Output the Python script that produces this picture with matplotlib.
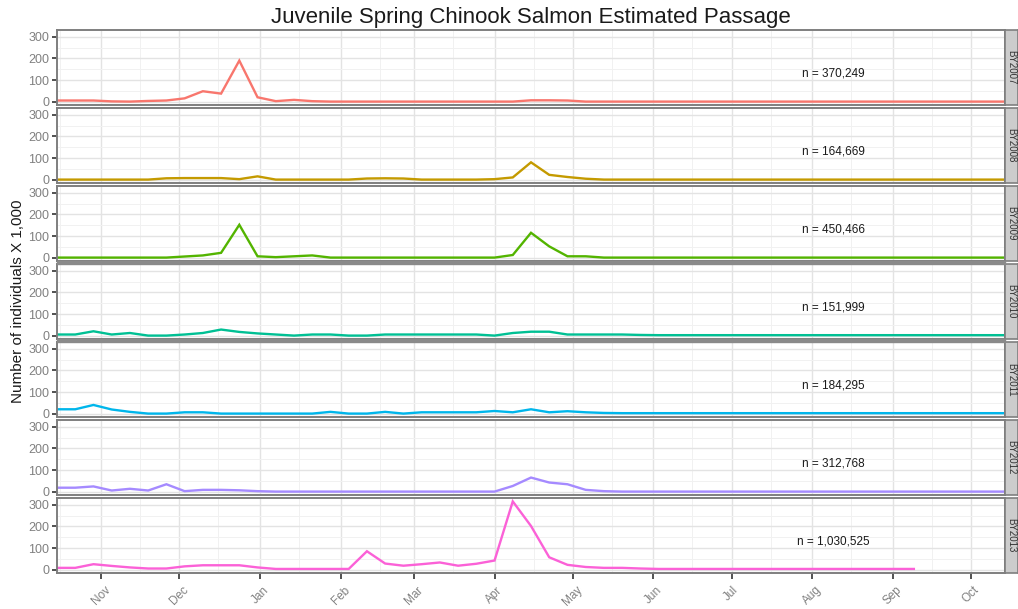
import pandas as pd
import matplotlib
matplotlib.use("Agg")
import matplotlib.pyplot as plt
import matplotlib.dates as mdates
from matplotlib.patches import Rectangle

# weekly passage estimates (individuals x 1,000), mid-October through mid-October
weeks = pd.date_range("2000-10-15", periods=53, freq="7D")

brood_years = ["BY2007", "BY2008", "BY2009", "BY2010", "BY2011", "BY2012", "BY2013"]

by2007 = [5, 5, 5, 1, 0, 3, 5, 15, 48, 37, 190, 20, 2, 8, 2,
          0, 0, 0, 0, 0, 0, 0, 0, 0, 0, 0,
          6, 6, 5,
          0, 0, 0, 0, 0, 0, 0, 0, 0, 0, 0, 0, 0, 0, 0, 0, 0, 0, 0, 0, 0, 0, 0, 0]
by2008 = [0, 0, 0, 0, 0, 0, 6, 7, 7, 7, 2, 15, 0,
          0, 0, 0, 0, 5, 6, 5, 0, 0, 0, 0,
          2, 10, 80, 22, 12, 4,
          0, 0, 0, 0, 0, 0, 0, 0, 0, 0, 0, 0, 0, 0, 0, 0, 0, 0, 0, 0, 0, 0, 0]
by2009 = [0, 0, 0, 0, 0, 0, 0, 5, 10, 22, 152, 6, 2, 6, 10, 0,
          0, 0, 0, 0, 0, 0, 0, 0,
          0, 12, 115, 52, 6, 6, 0,
          0, 0, 0, 0, 0, 0, 0, 0, 0, 0, 0, 0, 0, 0, 0, 0, 0, 0, 0, 0, 0, 0]
by2010 = [5, 5, 20, 5, 12, 0, 0, 5, 12, 28, 17, 10, 5, 0, 5, 5, 0, 0,
          5, 5, 5, 5, 5, 5, 0, 12, 18, 18, 5, 5, 5, 5, 3,
          2, 2, 2, 2, 2, 2, 2, 2, 2, 2, 2, 2, 2, 2, 2, 2, 2, 2, 2, 2]
by2011 = [20, 20, 40, 19, 8, 0, 0, 6, 6, 0, 0, 0, 0, 0, 0, 8, 0, 0,
          8, 0, 6, 6, 6, 6, 12, 6, 20, 6, 11, 6, 3,
          2, 2, 2, 2, 2, 2, 2, 2, 2, 2, 2, 2, 2, 2, 2, 2, 2, 2, 2, 2, 2, 2]
by2012 = [18, 18, 24, 5, 13, 5, 34, 2, 8, 8, 6, 2,
          0, 0, 0, 0, 0, 0, 0, 0, 0, 0, 0, 0,
          0, 26, 65, 42, 34, 8, 2,
          0, 0, 0, 0, 0, 0, 0, 0, 0, 0, 0, 0, 0, 0, 0, 0, 0, 0, 0, 0, 0, 0]
by2013 = [8, 8, 25, 17, 10, 5, 5, 15, 20, 20, 20, 10, 3, 3, 3, 3, 3,
          85, 28, 18, 25, 33, 18, 27, 42, 316, 202, 57, 22, 12, 8, 8, 5,
          3, 3, 3, 3, 3, 3, 3, 3, 3, 3, 3, 3, 3, 3, 3]

series = [by2007, by2008, by2009, by2010, by2011, by2012, by2013]
totals = ["370,249", "164,669", "450,466", "151,999", "184,295", "312,768", "1,030,525"]

palette = ["#F8766D", "#C49A00", "#53B400", "#00C094", "#00B6EB", "#A58AFF", "#FB61D7"]
plt.rcParams["font.family"] = ["Liberation Sans", "DejaVu Sans"]

W, H = 1018, 609
left, right = 57, 1005
top0, ph, pitch = 30, 75, 78
strip_w = 13

ymax = max(max(s) for s in series)
ylim = (-0.05 * ymax, 1.05 * ymax)
label_day = pd.Timestamp("2001-08-09")

fig = plt.figure(figsize=(W / 100, H / 100), dpi=100)

for k, (name, vals) in enumerate(zip(brood_years, series)):
    top = top0 + k * pitch
    y0 = 1 - (top + ph) / H
    ax = fig.add_axes([left / W, y0, (right - left) / W, ph / H])
    ax.plot(weeks[:len(vals)], vals, color=palette[k], lw=1.7, solid_joinstyle="miter")
    ax.set_xlim(weeks[0], weeks[-1])
    ax.set_ylim(*ylim)

    ax.xaxis.set_major_locator(mdates.MonthLocator())
    ax.xaxis.set_minor_locator(mdates.MonthLocator(bymonthday=16))
    ax.xaxis.set_major_formatter(mdates.DateFormatter("%b"))
    ax.set_yticks([0, 100, 200, 300])
    ax.set_yticks([50, 150, 250], minor=True)
    ax.grid(which="major", color="#e3e3e3", lw=1.0)
    ax.grid(which="minor", color="#f1f1f1", lw=0.7)
    ax.set_axisbelow(True)
    for sp in ax.spines.values():
        sp.set_color("#7f7f7f")
        sp.set_linewidth(1.4)

    ax.tick_params(which="minor", length=0)
    ax.tick_params(axis="y", length=3.5, width=1.1, color="#222222",
                   labelsize=9, labelcolor="#808080", pad=2)
    if k < len(series) - 1:
        ax.tick_params(axis="x", which="both", length=0, labelbottom=False)
    else:
        ax.tick_params(axis="x", length=4, width=1.1, color="#222222",
                       labelsize=8.5, labelcolor="#808080", pad=4)
        for lab in ax.get_xticklabels():
            lab.set_rotation(45)
            lab.set_ha("center")
            lab.set_va("top")

    ax.text(label_day, 130, f"n = {totals[k]}", ha="center", va="center",
            fontsize=8.5, color="#1a1a1a")

    # facet strip on the right
    sax = fig.add_axes([right / W, y0, strip_w / W, ph / H])
    sax.set_facecolor("#cccccc")
    sax.set_xticks([])
    sax.set_yticks([])
    for sp in sax.spines.values():
        sp.set_color("#7f7f7f")
        sp.set_linewidth(1.2)
    sax.text(0.5, 0.5, name, rotation=-90, ha="center", va="center",
             fontsize=7, color="#333333", transform=sax.transAxes)

# darker separators under the third and fourth panels
for k in (2, 3):
    gy = top0 + k * pitch + ph
    fig.patches.append(Rectangle((left / W, 1 - (gy + pitch - ph) / H),
                                 (right - left) / W, (pitch - ph) / H,
                                 transform=fig.transFigure, color="#8a8a8a", zorder=5))

fig.text((left + right) / 2 / W, 1 - 18 / H, "Juvenile Spring Chinook Salmon Estimated Passage",
         ha="center", va="center", fontsize=16, color="#1a1a1a")
fig.text(18 / W, 1 - 301 / H, "Number of individuals X 1,000", rotation=90,
         ha="center", va="center", fontsize=11, color="#1a1a1a")

fig.savefig("out.png", dpi=100)
